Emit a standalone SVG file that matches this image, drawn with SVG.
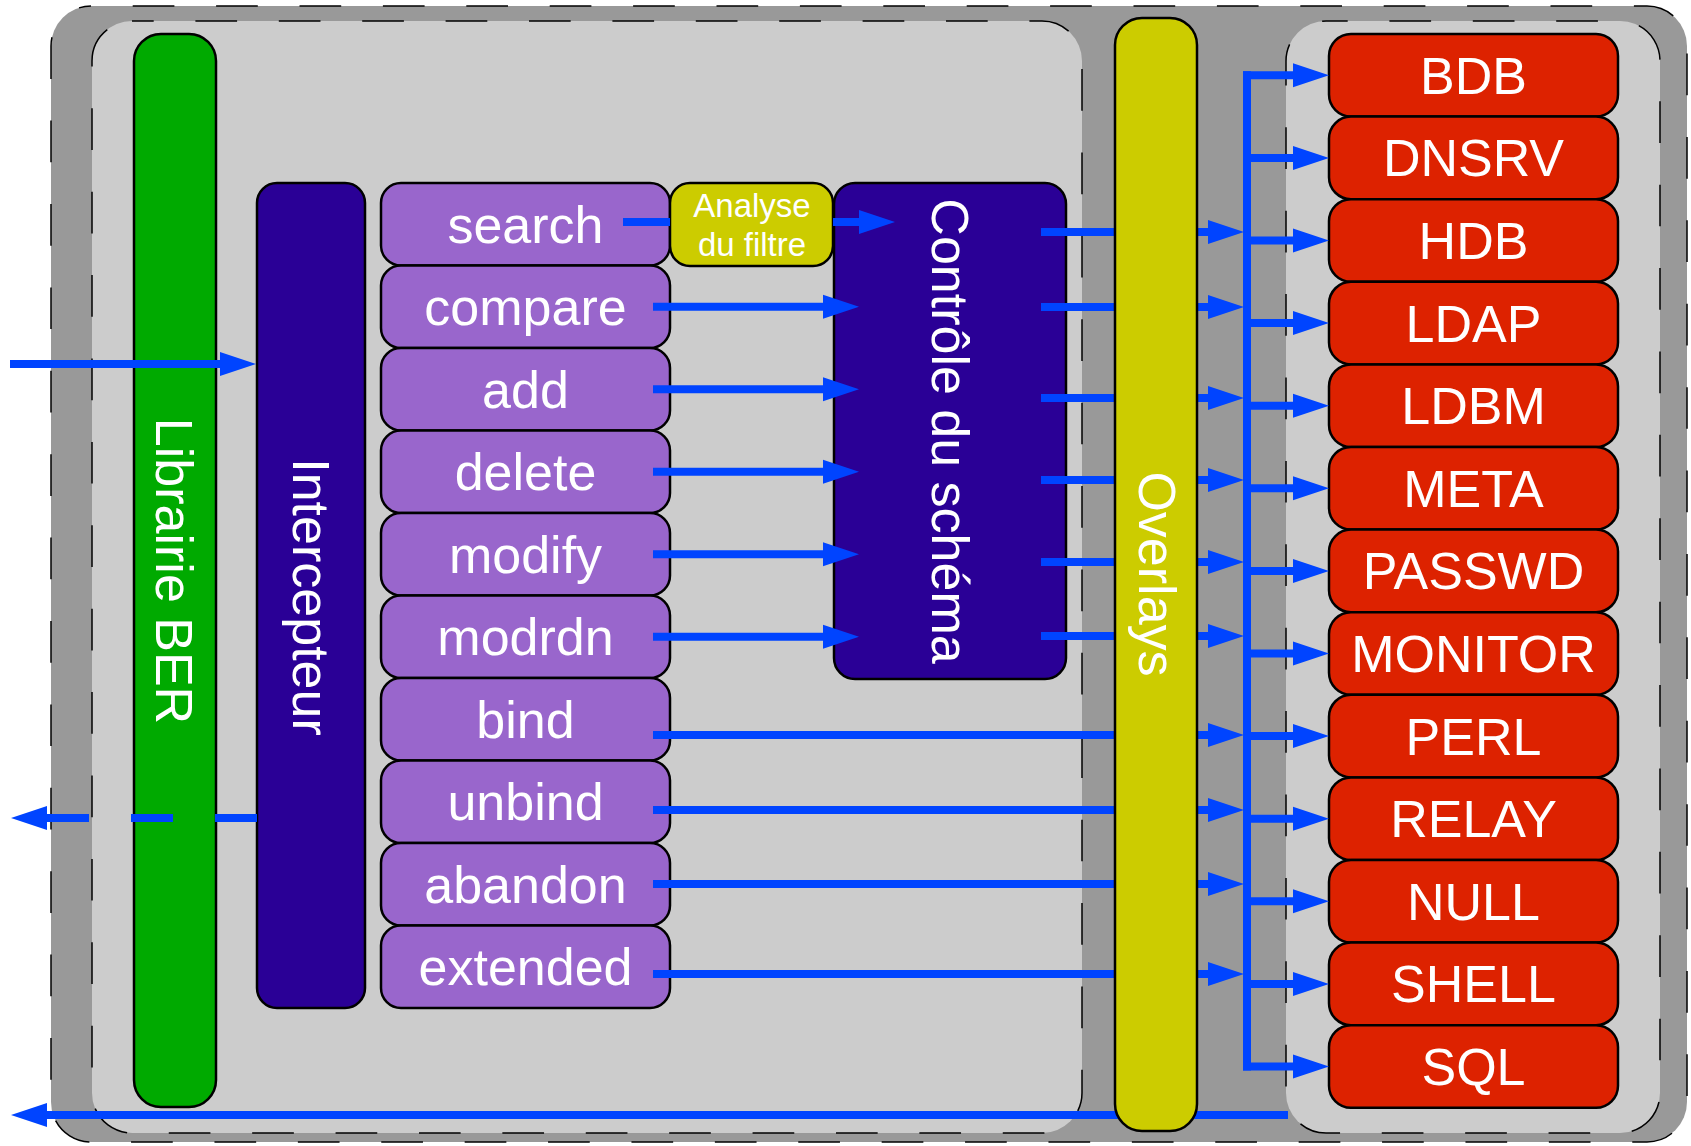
<svg xmlns="http://www.w3.org/2000/svg" width="1691" height="1146" viewBox="0 0 1691 1146">
<style>
.panel{stroke:#000;stroke-width:1.5;stroke-dasharray:41.7 41.7}
.node{stroke:#000;stroke-width:2.5}
.op{fill:#9966cc}
.be{fill:#dd2200}
.lbl{fill:#fff;font-family:"Liberation Sans",Arial,sans-serif;font-size:52px;text-anchor:middle}
.small{font-size:33px}
.wire{fill:none;stroke:#0044ff;stroke-width:8}
.arr{marker-end:url(#ah)}
</style>
<defs>
<marker id="ah" markerUnits="userSpaceOnUse" markerWidth="40" markerHeight="26" refX="1" refY="13" orient="auto" overflow="visible">
<path d="M0,1 L36,13 L0,25 z" fill="#0044ff"/>
</marker>
</defs>
<g id="panels">
<rect x="51" y="6" width="1636" height="1136" rx="40" fill="#999999" class="panel" stroke-dashoffset="41.7"/>
<rect x="92" y="21" width="990" height="1112" rx="40" fill="#cccccc" class="panel" stroke-dashoffset="20"/>
<rect x="1286" y="21" width="374" height="1112" rx="40" fill="#cccccc" class="panel" stroke-dashoffset="20"/>
</g>
<g id="ber">
<rect x="134" y="34" width="82" height="1073" rx="27" fill="#00aa00" class="node"/>
<text class="lbl" transform="translate(156,571) rotate(90)">Librairie BER</text>
</g>
<g id="intercepteur">
<rect x="257" y="183" width="108" height="825" rx="20" fill="#2a0096" class="node"/>
<text class="lbl" transform="translate(292.5,597) rotate(90)">Intercepteur</text>
</g>
<g id="ops">
<g id="op-search"><rect x="381" y="183" width="289" height="82.5" rx="20" class="node op"/><text class="lbl" x="525.5" y="242.7">search</text></g>
<g id="op-compare"><rect x="381" y="265.5" width="289" height="82.5" rx="20" class="node op"/><text class="lbl" x="525.5" y="325.2">compare</text></g>
<g id="op-add"><rect x="381" y="348" width="289" height="82.5" rx="20" class="node op"/><text class="lbl" x="525.5" y="407.7">add</text></g>
<g id="op-delete"><rect x="381" y="430.5" width="289" height="82.5" rx="20" class="node op"/><text class="lbl" x="525.5" y="490.2">delete</text></g>
<g id="op-modify"><rect x="381" y="513" width="289" height="82.5" rx="20" class="node op"/><text class="lbl" x="525.5" y="572.7">modify</text></g>
<g id="op-modrdn"><rect x="381" y="595.5" width="289" height="82.5" rx="20" class="node op"/><text class="lbl" x="525.5" y="655.2">modrdn</text></g>
<g id="op-bind"><rect x="381" y="678" width="289" height="82.5" rx="20" class="node op"/><text class="lbl" x="525.5" y="737.7">bind</text></g>
<g id="op-unbind"><rect x="381" y="760.5" width="289" height="82.5" rx="20" class="node op"/><text class="lbl" x="525.5" y="820.2">unbind</text></g>
<g id="op-abandon"><rect x="381" y="843" width="289" height="82.5" rx="20" class="node op"/><text class="lbl" x="525.5" y="902.7">abandon</text></g>
<g id="op-extended"><rect x="381" y="925.5" width="289" height="82.5" rx="20" class="node op"/><text class="lbl" x="525.5" y="985.2">extended</text></g>
</g>
<g id="analyse">
<rect x="670" y="183" width="163" height="83" rx="20" fill="#cccc00" class="node"/>
<text class="lbl small" x="752" y="216.5">Analyse</text>
<text class="lbl small" x="752" y="256">du filtre</text>
</g>
<g id="controle">
<rect x="834" y="183" width="232" height="496" rx="21" fill="#2a0096" class="node"/>
<text class="lbl" transform="translate(931.5,431) rotate(90)">Contrôle du schéma</text>
</g>
<g id="backends">
<g id="be-bdb"><rect x="1329" y="34" width="289" height="82.6" rx="22" class="node be"/><text class="lbl" x="1473.5" y="93.8">BDB</text></g>
<g id="be-dnsrv"><rect x="1329" y="116.6" width="289" height="82.6" rx="22" class="node be"/><text class="lbl" x="1473.5" y="176.4">DNSRV</text></g>
<g id="be-hdb"><rect x="1329" y="199.2" width="289" height="82.6" rx="22" class="node be"/><text class="lbl" x="1473.5" y="259">HDB</text></g>
<g id="be-ldap"><rect x="1329" y="281.8" width="289" height="82.6" rx="22" class="node be"/><text class="lbl" x="1473.5" y="341.6">LDAP</text></g>
<g id="be-ldbm"><rect x="1329" y="364.4" width="289" height="82.6" rx="22" class="node be"/><text class="lbl" x="1473.5" y="424.2">LDBM</text></g>
<g id="be-meta"><rect x="1329" y="447" width="289" height="82.6" rx="22" class="node be"/><text class="lbl" x="1473.5" y="506.8">META</text></g>
<g id="be-passwd"><rect x="1329" y="529.6" width="289" height="82.6" rx="22" class="node be"/><text class="lbl" x="1473.5" y="589.4">PASSWD</text></g>
<g id="be-monitor"><rect x="1329" y="612.2" width="289" height="82.6" rx="22" class="node be"/><text class="lbl" x="1473.5" y="672">MONITOR</text></g>
<g id="be-perl"><rect x="1329" y="694.8" width="289" height="82.6" rx="22" class="node be"/><text class="lbl" x="1473.5" y="754.6">PERL</text></g>
<g id="be-relay"><rect x="1329" y="777.4" width="289" height="82.6" rx="22" class="node be"/><text class="lbl" x="1473.5" y="837.2">RELAY</text></g>
<g id="be-null"><rect x="1329" y="860" width="289" height="82.6" rx="22" class="node be"/><text class="lbl" x="1473.5" y="919.8">NULL</text></g>
<g id="be-shell"><rect x="1329" y="942.6" width="289" height="82.6" rx="22" class="node be"/><text class="lbl" x="1473.5" y="1002.4">SHELL</text></g>
<g id="be-sql"><rect x="1329" y="1025.2" width="289" height="82.6" rx="22" class="node be"/><text class="lbl" x="1473.5" y="1085">SQL</text></g>
</g>
<g id="connectors">
<path class="wire arr" d="M10,364 H221"/>
<path class="wire arr" d="M257,818 H46" stroke-dasharray="42 42"/>
<path class="wire arr" d="M1288,1115 H46"/>
<path class="wire" d="M623,222 H670"/>
<path class="wire arr" d="M833,222 H860"/>
<path class="wire arr" d="M653,306.75 H824"/>
<path class="wire arr" d="M653,389.25 H824"/>
<path class="wire arr" d="M653,471.75 H824"/>
<path class="wire arr" d="M653,554.25 H824"/>
<path class="wire arr" d="M653,636.75 H824"/>
<path class="wire arr" d="M1041,232 H1209"/>
<path class="wire arr" d="M1041,307 H1209"/>
<path class="wire arr" d="M1041,398 H1209"/>
<path class="wire arr" d="M1041,480 H1209"/>
<path class="wire arr" d="M1041,562 H1209"/>
<path class="wire arr" d="M1041,636 H1209"/>
<path class="wire arr" d="M653,735 H1209"/>
<path class="wire arr" d="M653,810 H1209"/>
<path class="wire arr" d="M653,884 H1209"/>
<path class="wire arr" d="M653,974 H1209"/>
<path class="wire" d="M1247,71.3 V1070.5"/>
<path class="wire arr" d="M1243,75.3 H1294"/>
<path class="wire arr" d="M1247,157.9 H1294"/>
<path class="wire arr" d="M1247,240.5 H1294"/>
<path class="wire arr" d="M1247,323.1 H1294"/>
<path class="wire arr" d="M1247,405.7 H1294"/>
<path class="wire arr" d="M1247,488.3 H1294"/>
<path class="wire arr" d="M1247,570.9 H1294"/>
<path class="wire arr" d="M1247,653.5 H1294"/>
<path class="wire arr" d="M1247,736.1 H1294"/>
<path class="wire arr" d="M1247,818.7 H1294"/>
<path class="wire arr" d="M1247,901.3 H1294"/>
<path class="wire arr" d="M1247,983.9 H1294"/>
<path class="wire arr" d="M1243,1066.5 H1294"/>
</g>
<g id="overlays">
<rect x="1115" y="18" width="82" height="1113" rx="27" fill="#cccc00" class="node"/>
<text class="lbl" transform="translate(1138.5,574) rotate(90)">Overlays</text>
</g>
</svg>
